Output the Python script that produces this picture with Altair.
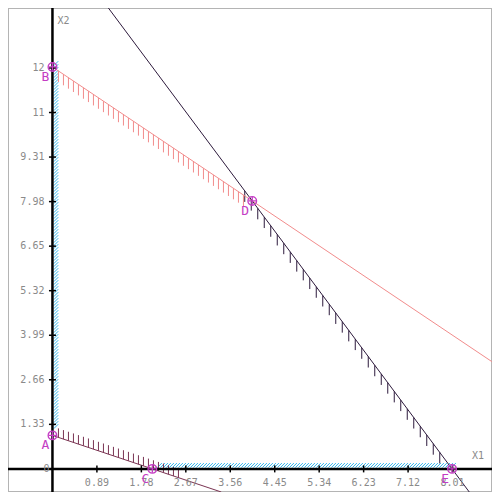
import altair as alt
import numpy as np
import pandas as pd

# ---- data ----
X_DOMAIN = [-0.89, 8.80]
Y_DOMAIN = [-0.69, 13.76]

# constraints a1*x1 + a2*x2 (<= or >=) b
c_a1 = [1, 2, 1]
c_a2 = [1, 1, 2]
c_b = [12, 16, 2]
c_color = ["#ff6464", "#2d1a3c", "#7a3452"]
c_hatch_color = ["#f28c8c", "#2d1a3c", "#7a3452"]
c_hatch_from = [0.12, 3.85, 0.12]
c_hatch_to = [3.85, 7.85, 2.55]
c_hatch_dir = [-1, -1, 1]

x_ticks = [0.89, 1.78, 2.67, 3.56, 4.45, 5.34, 6.23, 7.12, 8.01]
x_tick_labels = ["0.89", "1.78", "2.67", "3.56", "4.45", "5.34", "6.23", "7.12", "8.01"]
y_ticks = [1.33, 2.66, 3.99, 5.32, 6.65, 7.98, 9.31, 10.64, 11.97]
y_tick_labels = ["1.33", "2.66", "3.99", "5.32", "6.65", "7.98", "9.31", "11", "12"]

pt_name = ["A", "B", "C", "D", "E"]
pt_x = [0, 0, 2, 4, 8]
pt_y = [1, 12, 0, 8, 0]

# feasible-edge strips along the axes
strip_y_from, strip_y_to = 1.2, 12.1
strip_x_from, strip_x_to = 2.1, 8.0

W = H = 484
pxx = W / (X_DOMAIN[1] - X_DOMAIN[0])
pxy = H / (Y_DOMAIN[1] - Y_DOMAIN[0])

xs = alt.Scale(domain=X_DOMAIN, nice=False, zero=False)
ys = alt.Scale(domain=Y_DOMAIN, nice=False, zero=False)
X = lambda f="x": alt.X(f"{f}:Q", scale=xs, axis=None)
Y = lambda f="y": alt.Y(f"{f}:Q", scale=ys, axis=None)

# constraint lines
line_rows = []
hatch_rows = []
for i in range(len(c_b)):
    a1, a2, b = c_a1[i], c_a2[i], c_b[i]
    x0 = 0.0
    y0 = b / a2
    if y0 > Y_DOMAIN[1]:
        y0 = Y_DOMAIN[1]
        x0 = (b - a2 * y0) / a1
    x1 = (b - a2 * Y_DOMAIN[0]) / a1
    y1 = Y_DOMAIN[0]
    if x1 > X_DOMAIN[1]:
        x1 = X_DOMAIN[1]
        y1 = (b - a1 * x1) / a2
    line_rows.append(dict(x=x0, y=y0, x2=x1, y2=y1, c=str(i)))
    step = (5.0 if i != 1 else 6.5) / pxx
    L = (11.0 if i != 2 else 9.0) / pxy
    for hx in np.arange(c_hatch_from[i], c_hatch_to[i], step):
        hy = (b - a1 * hx) / a2
        hatch_rows.append(dict(x=hx, y=hy, x2=hx, y2=hy + c_hatch_dir[i] * L, c=str(i)))

lines_df = pd.DataFrame(line_rows)
hatch_df = pd.DataFrame(hatch_rows)

# cyan strips
strip_rows = []
d_px = 4.5
for sy in np.arange(strip_y_from, strip_y_to, 3.0 / pxy):
    strip_rows.append(dict(x=1.3 / pxx, y=sy, x2=1.3 / pxx + d_px / pxx, y2=sy + d_px / pxy))
for sx in np.arange(strip_x_from, strip_x_to, 3.0 / pxx):
    strip_rows.append(dict(x=sx, y=1.3 / pxy, x2=sx + d_px / pxx, y2=1.3 / pxy + d_px / pxy))
strip_df = pd.DataFrame(strip_rows)

color_scale = alt.Scale(domain=["0", "1", "2"], range=c_color)
hatch_scale = alt.Scale(domain=["0", "1", "2"], range=c_hatch_color)

strips = alt.Chart(strip_df).mark_rule(color="#2fb4ea", strokeWidth=1, clip=True).encode(
    x=X(), y=Y(), x2="x2:Q", y2="y2:Q")

hatch = alt.Chart(hatch_df).mark_rule(strokeWidth=1, clip=True).encode(
    x=X(), y=Y(), x2="x2:Q", y2="y2:Q",
    color=alt.Color("c:N", scale=hatch_scale, legend=None))

lines = alt.Chart(lines_df).mark_rule(strokeWidth=1, clip=True).encode(
    x=X(), y=Y(), x2="x2:Q", y2="y2:Q",
    color=alt.Color("c:N", scale=color_scale, legend=None))

axes_df = pd.DataFrame([
    dict(x=0, y=Y_DOMAIN[0], x2=0, y2=Y_DOMAIN[1]),
    dict(x=X_DOMAIN[0], y=0, x2=X_DOMAIN[1], y2=0),
])
axes = alt.Chart(axes_df).mark_rule(color="black", strokeWidth=2.5).encode(
    x=X(), y=Y(), x2="x2:Q", y2="y2:Q")

tk = 3.5
xt_df = pd.DataFrame(dict(x=x_ticks, label=x_tick_labels))
xt_df["y"] = -tk / pxy
xt_df["y2"] = tk / pxy
xtick_marks = alt.Chart(xt_df).mark_rule(color="black", strokeWidth=1.5).encode(
    x=X(), y=Y(), y2="y2:Q")
xtick_text = alt.Chart(xt_df).mark_text(
    font="DejaVu Sans Mono", fontSize=10, color="#8a8a8a", dy=14, baseline="middle"
).encode(x=X(), y=alt.Y("z:Q", scale=ys, axis=None), text="label:N").transform_calculate(z="0")

yt_df = pd.DataFrame(dict(y=y_ticks, label=y_tick_labels))
yt_df["x"] = -tk / pxx
yt_df["x2"] = tk / pxx
ytick_marks = alt.Chart(yt_df).mark_rule(color="black", strokeWidth=1.5).encode(
    x=X(), x2="x2:Q", y=Y())
ytick_text = alt.Chart(yt_df).mark_text(
    font="DejaVu Sans Mono", fontSize=10, color="#8a8a8a", dx=-8, align="right", baseline="middle"
).encode(x=alt.X("z:Q", scale=xs, axis=None), y=Y(), text="label:N").transform_calculate(z="0")

misc_df = pd.DataFrame([
    dict(x=0, y=0, t="0", dx=-3, dy=0, al="right"),
    dict(x=X_DOMAIN[1], y=0, t="X1", dx=-8, dy=-13, al="right"),
    dict(x=0, y=Y_DOMAIN[1], t="X2", dx=5, dy=13, al="left"),
])
misc_text = []
for r in misc_df.to_dict("records"):
    misc_text.append(
        alt.Chart(pd.DataFrame([r])).mark_text(
            font="DejaVu Sans Mono", fontSize=10, color="#8a8a8a",
            dx=r["dx"], dy=r["dy"], align=r["al"], baseline="middle"
        ).encode(x=X(), y=Y(), text="t:N"))

pts_df = pd.DataFrame(dict(x=pt_x, y=pt_y, name=pt_name))
MAG = "#c43cc4"
pt_circle = alt.Chart(pts_df).mark_point(
    shape="circle", size=75, stroke=MAG, strokeWidth=1.3, filled=False, opacity=1
).encode(x=X(), y=Y())
pt_cross = alt.Chart(pts_df).mark_point(
    shape="M-1,0L1,0M0,-1L0,1", size=60, stroke=MAG, strokeWidth=1.3, filled=False, opacity=1
).encode(x=X(), y=Y())
pt_label = alt.Chart(pts_df).mark_text(
    font="DejaVu Sans Mono", fontSize=13, color=MAG, dx=-7, dy=10, baseline="middle", align="center"
).encode(x=X(), y=Y(), text="name:N")

chart = alt.layer(
    strips, hatch, lines, axes, xtick_marks, ytick_marks, xtick_text, ytick_text,
    *misc_text, pt_circle, pt_cross, pt_label
).properties(
    width=W, height=H, padding=0, autosize="none", background="white"
).configure_view(stroke="#b4b4b4", strokeWidth=2)

chart.save("out.html", embed_options={"renderer": "svg", "actions": False})
